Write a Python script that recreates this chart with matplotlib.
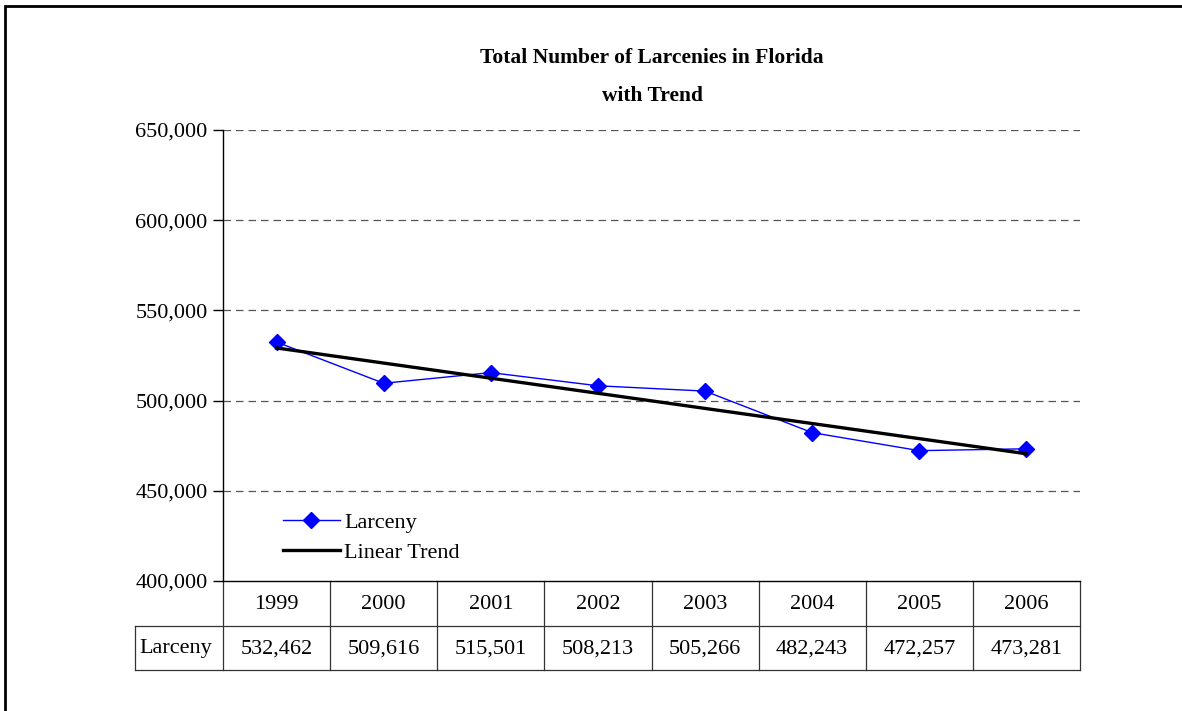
import matplotlib.pyplot as plt
import numpy as np
from matplotlib.patches import Rectangle
from matplotlib.ticker import FuncFormatter

years = ['1999', '2000', '2001', '2002', '2003', '2004', '2005', '2006']
larceny = [532462, 509616, 515501, 508213, 505266, 482243, 472257, 473281]
yticks = [400000, 450000, 500000, 550000, 600000, 650000]

plt.rcParams['font.family'] = ['Liberation Serif', 'DejaVu Serif']

W, H = 1182, 711
fig = plt.figure(figsize=(W / 100, H / 100), dpi=100)

# plot area in pixels
L, R, T, B = 223, 1080, 130, 581
ax = fig.add_axes([L / W, 1 - B / H, (R - L) / W, (B - T) / H])

x = np.arange(len(years))
ax.plot(x, larceny, color='#0000ff', lw=1, marker='D', ms=8,
        markerfacecolor='#0000ff', markeredgecolor='#0000ff', label='Larceny', zorder=3)

# linear trend from the data
k, c = np.polyfit(x, larceny, 1)
ax.plot(x, k * x + c, color='black', lw=2.4, label='Linear Trend', zorder=4)

ax.set_xlim(-0.5, len(years) - 0.5)
ax.set_ylim(400000, 650000)
ax.set_yticks(yticks)
ax.yaxis.set_major_formatter(FuncFormatter(lambda v, p: f'{int(v):,}'))
ax.tick_params(axis='y', direction='out', length=7, width=1, labelsize=16, pad=4)
ax.set_xticks([])
for v in yticks[1:]:
    ax.axhline(v, color='#555555', lw=0.9, ls=(0, (6, 4)), zorder=1)
ax.spines['top'].set_visible(False)
ax.spines['right'].set_visible(False)
ax.spines['left'].set_linewidth(1)
ax.spines['bottom'].set_linewidth(1)

leg = ax.legend(loc='lower left', bbox_to_anchor=(0.07, 0.04), frameon=False,
                fontsize=16, handlelength=2.55, handletextpad=0.2, labelspacing=0.42,
                borderpad=0, borderaxespad=0)

# data table beneath the chart (x in data units, y in axes fraction)
tr = ax.get_xaxis_transform()
row_h = 44.5 / (B - T)
lab_left = -0.5 - (L - 135) / ((R - L) / len(years))
lkw = dict(color='#333333', lw=0.9, transform=tr, clip_on=False)
ax.plot([lab_left, 7.5], [-row_h, -row_h], **lkw)
ax.plot([lab_left, 7.5], [-2 * row_h, -2 * row_h], **lkw)
for i in range(len(years) + 1):
    ax.plot([i - 0.5, i - 0.5], [0, -2 * row_h], **lkw)
ax.plot([lab_left, lab_left], [-row_h, -2 * row_h], **lkw)
for i, (yr, v) in enumerate(zip(years, larceny)):
    ax.text(i, -0.52 * row_h, yr, transform=tr, ha='center', va='center', fontsize=16)
    ax.text(i, -1.52 * row_h, f'{v:,}', transform=tr, ha='center', va='center', fontsize=16)
ax.text(lab_left + 0.04, -1.52 * row_h, 'Larceny', transform=tr, ha='left', va='center',
        fontsize=16)

fig.text(652 / W, 1 - 58 / H, 'Total Number of Larcenies in Florida', ha='center',
         va='center', fontsize=15.5, fontweight='bold')
fig.text(652 / W, 1 - 96 / H, 'with Trend', ha='center', va='center',
         fontsize=15.5, fontweight='bold')

fig.add_artist(Rectangle((5 / W, -0.1), 1.2, 1.1 - 6 / H, transform=fig.transFigure,
                         fill=False, lw=2, edgecolor='black'))

fig.savefig('out.png', dpi=100)
